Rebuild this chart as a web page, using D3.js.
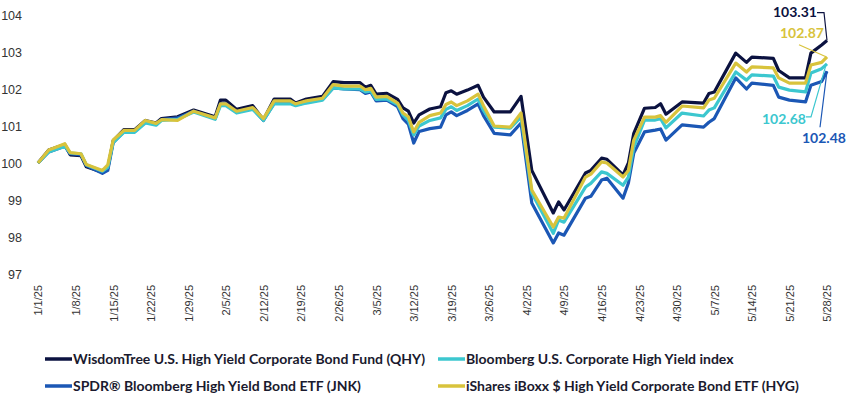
<!DOCTYPE html>
<html>
<head>
<meta charset="utf-8">
<script src="https://cdn.jsdelivr.net/npm/d3@7"></script>
<style>
  body { margin: 0; background: #fff; }
  svg { display: block; font-family: Lato, "Noto Sans", sans-serif; }
</style>
</head>
<body>
<div id="chart"></div>
<script>
// growth of 100
const dates = [
  "2025-01-01", "2025-01-03", "2025-01-06", "2025-01-07", "2025-01-09", "2025-01-10",
  "2025-01-13", "2025-01-14", "2025-01-15", "2025-01-17", "2025-01-19", "2025-01-21",
  "2025-01-23", "2025-01-24", "2025-01-27", "2025-01-30", "2025-02-03", "2025-02-04",
  "2025-02-05", "2025-02-07", "2025-02-10", "2025-02-12", "2025-02-14", "2025-02-17",
  "2025-02-18", "2025-02-20", "2025-02-23", "2025-02-25", "2025-02-27", "2025-03-02",
  "2025-03-03", "2025-03-04", "2025-03-05", "2025-03-07", "2025-03-09", "2025-03-10",
  "2025-03-11", "2025-03-12", "2025-03-13", "2025-03-15", "2025-03-17", "2025-03-18",
  "2025-03-19", "2025-03-20", "2025-03-22", "2025-03-24", "2025-03-25", "2025-03-27",
  "2025-03-30", "2025-04-01", "2025-04-03", "2025-04-07", "2025-04-08", "2025-04-09",
  "2025-04-13", "2025-04-14", "2025-04-16", "2025-04-17", "2025-04-20", "2025-04-21",
  "2025-04-22", "2025-04-24", "2025-04-26", "2025-04-27", "2025-04-28", "2025-05-01",
  "2025-05-05", "2025-05-06", "2025-05-07", "2025-05-11", "2025-05-13", "2025-05-14",
  "2025-05-18", "2025-05-19", "2025-05-21", "2025-05-24", "2025-05-25", "2025-05-27",
  "2025-05-28"
]

const qhy = [
  100.00, 100.35, 100.50, 100.22, 100.20, 99.90,
  99.75, 99.85, 100.60, 100.90, 100.90, 101.15,
  101.08, 101.20, 101.25, 101.43, 101.25, 101.70,
  101.70, 101.45, 101.55, 101.17, 101.73, 101.73,
  101.62, 101.73, 101.80, 102.20, 102.17, 102.17,
  102.05, 102.10, 101.86, 101.88, 101.72, 101.49,
  101.40, 101.08, 101.30, 101.46, 101.52, 101.90,
  101.95, 101.86, 101.97, 102.10, 101.78, 101.38,
  101.38, 101.80, 99.80, 98.65, 98.95, 98.73,
  99.73, 99.80, 100.13, 100.10, 99.68, 100.00,
  100.80, 101.48, 101.50, 101.60, 101.32, 101.65,
  101.62, 101.88, 101.92, 102.97, 102.72, 102.86,
  102.83, 102.50, 102.30, 102.30, 102.97, 103.19,
  103.31
]

const bbgIndex = [
  100.00, 100.30, 100.45, 100.27, 100.25, 99.95,
  99.78, 99.88, 100.55, 100.83, 100.83, 101.08,
  101.02, 101.15, 101.18, 101.38, 101.18, 101.55,
  101.55, 101.35, 101.45, 101.15, 101.60, 101.60,
  101.55, 101.62, 101.70, 102.03, 102.00, 102.00,
  101.92, 101.95, 101.72, 101.73, 101.58, 101.30,
  101.15, 100.76, 101.00, 101.15, 101.22, 101.45,
  101.52, 101.42, 101.55, 101.73, 101.42, 100.97,
  100.94, 101.24, 99.19, 98.10, 98.46, 98.40,
  99.35, 99.45, 99.76, 99.72, 99.40, 99.62,
  100.43, 101.16, 101.16, 101.20, 100.95, 101.35,
  101.27, 101.43, 101.49, 102.46, 102.24, 102.38,
  102.35, 102.05, 101.97, 101.92, 102.43, 102.55,
  102.68
]

const jnk = [
  100.00, 100.30, 100.45, 100.25, 100.22, 99.93,
  99.72, 99.80, 100.55, 100.85, 100.85, 101.10,
  101.05, 101.17, 101.22, 101.40, 101.20, 101.60,
  101.60, 101.38, 101.48, 101.15, 101.62, 101.62,
  101.57, 101.64, 101.72, 102.03, 102.00, 101.98,
  101.88, 101.92, 101.68, 101.70, 101.52, 101.20,
  101.05, 100.54, 100.85, 100.93, 100.97, 101.30,
  101.38, 101.28, 101.42, 101.60, 101.28, 100.80,
  100.76, 101.08, 98.92, 97.84, 98.11, 98.05,
  99.05, 99.10, 99.54, 99.59, 99.05, 99.46,
  100.27, 100.84, 100.89, 100.92, 100.62, 101.03,
  100.97, 101.10, 101.20, 102.30, 102.00, 102.16,
  102.10, 101.78, 101.70, 101.65, 102.10, 102.20,
  102.48
]

const hyg = [
  100.00, 100.35, 100.52, 100.28, 100.25, 99.96,
  99.80, 99.95, 100.62, 100.88, 100.88, 101.15,
  101.07, 101.17, 101.15, 101.40, 101.22, 101.60,
  101.60, 101.40, 101.50, 101.20, 101.68, 101.68,
  101.60, 101.68, 101.75, 102.12, 102.08, 102.08,
  101.98, 102.02, 101.78, 101.80, 101.62, 101.35,
  101.25, 100.84, 101.10, 101.28, 101.35, 101.58,
  101.65, 101.55, 101.68, 101.86, 101.55, 101.00,
  100.97, 101.35, 99.27, 98.27, 98.54, 98.51,
  99.62, 99.70, 100.03, 100.00, 99.62, 99.80,
  100.62, 101.24, 101.24, 101.28, 101.10, 101.54,
  101.49, 101.70, 101.75, 102.70, 102.46, 102.60,
  102.57, 102.30, 102.16, 102.16, 102.65, 102.72,
  102.87
]

const tickDates = [
  "2025-01-01", "2025-01-08", "2025-01-15", "2025-01-22", "2025-01-29", "2025-02-05",
  "2025-02-12", "2025-02-19", "2025-02-26", "2025-03-05", "2025-03-12", "2025-03-19",
  "2025-03-26", "2025-04-02", "2025-04-09", "2025-04-16", "2025-04-23", "2025-04-30",
  "2025-05-07", "2025-05-14", "2025-05-21", "2025-05-28"
]
const yTicks = [97, 98, 99, 100, 101, 102, 103, 104]

const series = [
  {key: "qhy", name: "WisdomTree U.S. High Yield Corporate Bond Fund (QHY)", values: qhy, color: "#0b1240"},
  {key: "jnk", name: "SPDR® Bloomberg High Yield Bond ETF (JNK)", values: jnk, color: "#1b57b5"},
  {key: "idx", name: "Bloomberg U.S. Corporate High Yield index", values: bbgIndex, color: "#3cc7cf"},
  {key: "hyg", name: "iShares iBoxx $ High Yield Corporate Bond ETF (HYG)", values: hyg, color: "#d8c33c"},
]

const width = 849
const height = 400
const parse = d3.utcParse("%Y-%m-%d")
const fmtTick = d3.utcFormat("%-m/%-d/%y")

const x = d3.scaleUtc()
  .domain([parse("2025-01-01"), parse("2025-05-28")])
  .range([38, 827])
const y = d3.scaleLinear()
  .domain([97, 104])
  .range([274, 15])

const svg = d3.select("#chart").append("svg")
  .attr("width", width)
  .attr("height", height)

// y axis, labels only
svg.append("g")
  .attr("transform", "translate(22,0)")
  .call(d3.axisLeft(y).tickValues(yTicks).tickFormat(d3.format("d")).tickSize(0).tickPadding(0))
  .call(g => g.select(".domain").remove())
  .call(g => g.selectAll("text")
    .attr("fill", "#333")
    .style("font-size", "12.5px"))

// x axis, rotated labels only
svg.append("g")
  .attr("transform", "translate(0,285)")
  .call(d3.axisBottom(x).tickValues(tickDates.map(parse)).tickFormat(fmtTick).tickSize(0))
  .call(g => g.select(".domain").remove())
  .call(g => g.selectAll("text")
    .attr("fill", "#333")
    .style("font-size", "11px")
    .attr("transform", "rotate(-90)")
    .attr("text-anchor", "end")
    .attr("x", 0)
    .attr("y", 0)
    .attr("dy", "0.35em"))

const line = d3.line()
  .x((d, i) => x(parse(dates[i])))
  .y(d => y(d))

svg.append("g")
  .selectAll("path")
  .data(series)
  .join("path")
    .attr("fill", "none")
    .attr("stroke", d => d.color)
    .attr("stroke-width", 3.2)
    .attr("stroke-linejoin", "round")
    .attr("d", d => line(d.values))

// end labels with leader lines
const lastDate = parse(dates[dates.length - 1])
const endLabels = [
  {key: "qhy", dx: -54, dy: -28, leader: [[-10, -28], [-3, -28], [0, 0]]},
  {key: "hyg", dx: -47, dy: -24, leader: [[-28, -12], [-1, 0]]},
  {key: "idx", dx: -65, dy: 55, leader: [[-21, 53], [-16, 53], [-1, 1]]},
  {key: "jnk", dx: -25, dy: 67, leader: [[-7, 56], [0, 0]]},
]
const labelG = svg.append("g")
for (const lab of endLabels) {
  const s = series.find(d => d.key == lab.key)
  const v = s.values[s.values.length - 1]
  const px = x(lastDate)
  const py = y(v)
  labelG.append("path")
    .attr("fill", "none")
    .attr("stroke", s.color)
    .attr("stroke-width", 1.2)
    .attr("d", d3.line()(lab.leader.map(p => [px + p[0], py + p[1]])))
  labelG.append("text")
    .attr("x", px + lab.dx)
    .attr("y", py + lab.dy)
    .attr("dy", "0.35em")
    .attr("fill", s.color)
    .style("font-size", "14px")
    .style("font-weight", "bold")
    .text(d3.format(".2f")(v))
}

// legend, two columns
const legendOrder = ["qhy", "idx", "jnk", "hyg"]
const legend = svg.append("g")
  .selectAll("g")
  .data(legendOrder.map(k => series.find(d => d.key == k)))
  .join("g")
    .attr("transform", (d, i) => `translate(${i % 2 ? 438 : 45},${i < 2 ? 359 : 386})`)
legend.append("line")
  .attr("x1", 0).attr("x2", 27)
  .attr("stroke", d => d.color)
  .attr("stroke-width", 3.5)
legend.append("text")
  .attr("x", 28)
  .attr("dy", "0.35em")
  .attr("fill", "#1a1a2e")
  .style("font-size", "14px")
  .style("font-weight", "bold")
  .text(d => d.name)
</script>
</body>
</html>
